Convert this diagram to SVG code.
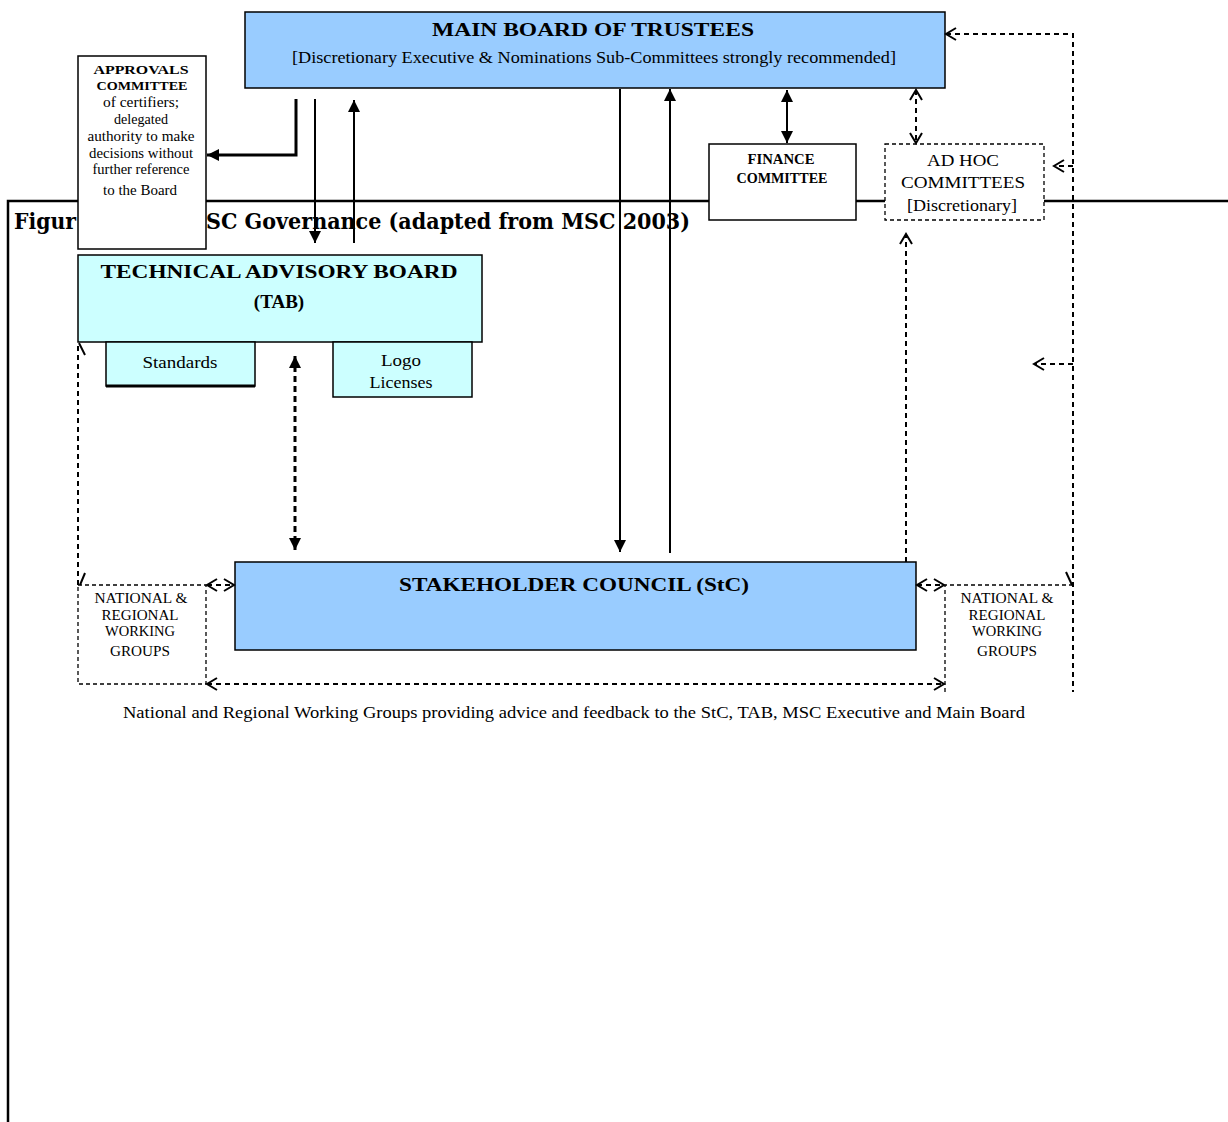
<svg xmlns="http://www.w3.org/2000/svg" width="1228" height="1122" viewBox="0 0 1228 1122">
<style>
.t{font-family:"Liberation Serif","Times New Roman",serif;fill:#000;text-anchor:middle}
.b{font-weight:bold}
.box{stroke:#000;stroke-width:1.5}
.dbox{fill:#fff;stroke:#000;stroke-width:1.3;stroke-dasharray:4,3}
.ln{fill:none;stroke:#000;stroke-width:2}
.dl{fill:none;stroke:#000;stroke-width:2;stroke-dasharray:5,4}
</style>
<defs>
<marker id="fa" markerUnits="userSpaceOnUse" markerWidth="12" markerHeight="12" viewBox="0 0 12 12" refX="12" refY="6" orient="auto-start-reverse"><path d="M0,0 L12,6 L0,12 z" fill="#000"/></marker>
<marker id="oa" markerUnits="userSpaceOnUse" markerWidth="14" markerHeight="14" viewBox="0 0 14 14" refX="12" refY="7" orient="auto-start-reverse"><path d="M2,1 L12,7 L2,13" fill="none" stroke="#000" stroke-width="2"/></marker>
</defs>
<rect width="1228" height="1122" fill="#fff"/>
<g id="frame">
<path d="M8,1122 V201 H1228" fill="none" stroke="#000" stroke-width="2.5"/>
<text x="14" y="229" font-family="'DejaVu Serif','Liberation Serif',serif" font-weight="bold" font-size="23" textLength="62" lengthAdjust="spacingAndGlyphs">Figur</text>
<text x="206" y="229" font-family="'DejaVu Serif','Liberation Serif',serif" font-weight="bold" font-size="23" textLength="484" lengthAdjust="spacingAndGlyphs">SC Governance (adapted from MSC 2003)</text>
</g>
<g id="main-board">
<rect class="box" x="245" y="12" width="700" height="76" fill="#99ccff" stroke-width="2"/>
<text class="t b" x="593" y="36" font-size="19" textLength="322" lengthAdjust="spacingAndGlyphs">MAIN BOARD OF TRUSTEES</text>
<text class="t" x="594" y="63" font-size="16" textLength="604" lengthAdjust="spacingAndGlyphs">[Discretionary Executive &amp; Nominations Sub-Committees strongly recommended]</text>
</g>
<g id="approvals">
<rect class="box" x="78" y="56" width="128" height="193" fill="#fff"/>
<text class="t b" x="141" y="74" font-size="13" textLength="95" lengthAdjust="spacingAndGlyphs">APPROVALS</text>
<text class="t b" x="142" y="90" font-size="13" textLength="91" lengthAdjust="spacingAndGlyphs">COMMITTEE</text>
<text class="t" x="141" y="107" font-size="14" textLength="76" lengthAdjust="spacingAndGlyphs">of certifiers;</text>
<text class="t" x="141" y="124" font-size="14" textLength="54" lengthAdjust="spacingAndGlyphs">delegated</text>
<text class="t" x="141" y="141" font-size="14" textLength="107" lengthAdjust="spacingAndGlyphs">authority to make</text>
<text class="t" x="141" y="158" font-size="14" textLength="104" lengthAdjust="spacingAndGlyphs">decisions without</text>
<text class="t" x="141" y="174" font-size="14" textLength="97" lengthAdjust="spacingAndGlyphs">further reference</text>
<text class="t" x="140" y="195" font-size="14" textLength="74" lengthAdjust="spacingAndGlyphs">to the Board</text>
</g>
<g id="finance">
<rect class="box" x="709" y="144" width="147" height="76" fill="#fff"/>
<text class="t b" x="781" y="164" font-size="14" textLength="67" lengthAdjust="spacingAndGlyphs">FINANCE</text>
<text class="t b" x="782" y="183" font-size="14" textLength="91" lengthAdjust="spacingAndGlyphs">COMMITTEE</text>
</g>
<g id="adhoc">
<rect class="dbox" x="885" y="144" width="159" height="76"/>
<text class="t" x="963" y="166" font-size="17" textLength="72" lengthAdjust="spacingAndGlyphs">AD HOC</text>
<text class="t" x="963" y="188" font-size="17" textLength="124" lengthAdjust="spacingAndGlyphs">COMMITTEES</text>
<text class="t" x="962" y="211" font-size="17" textLength="110" lengthAdjust="spacingAndGlyphs">[Discretionary]</text>
</g>
<g id="tab">
<rect class="box" x="78" y="255" width="404" height="87" fill="#ccffff"/>
<text class="t b" x="279" y="278" font-size="19" textLength="357" lengthAdjust="spacingAndGlyphs">TECHNICAL ADVISORY BOARD</text>
<text class="t b" x="279" y="308" font-size="19">(TAB)</text>
</g>
<g id="standards">
<rect class="box" x="106" y="342" width="149" height="44" fill="#ccffff"/>
<line x1="106" y1="386" x2="255" y2="386" stroke="#000" stroke-width="3"/>
<text class="t" x="180" y="368" font-size="17" textLength="75" lengthAdjust="spacingAndGlyphs">Standards</text>
</g>
<g id="logo">
<rect class="box" x="333" y="342" width="139" height="55" fill="#ccffff"/>
<text class="t" x="401" y="366" font-size="17" textLength="40" lengthAdjust="spacingAndGlyphs">Logo</text>
<text class="t" x="401" y="388" font-size="17" textLength="63" lengthAdjust="spacingAndGlyphs">Licenses</text>
</g>
<g id="stc">
<rect class="box" x="235" y="562" width="681" height="88" fill="#99ccff" stroke-width="2"/>
<text class="t b" x="574" y="591" font-size="19" textLength="350" lengthAdjust="spacingAndGlyphs">STAKEHOLDER COUNCIL (StC)</text>
</g>
<g id="nrwg-left">
<rect class="dbox" x="78" y="585" width="128" height="99"/>
<text class="t" x="141" y="603" font-size="15" textLength="93" lengthAdjust="spacingAndGlyphs">NATIONAL &amp;</text>
<text class="t" x="140" y="620" font-size="15" textLength="77" lengthAdjust="spacingAndGlyphs">REGIONAL</text>
<text class="t" x="140" y="636" font-size="15" textLength="70" lengthAdjust="spacingAndGlyphs">WORKING</text>
<text class="t" x="140" y="656" font-size="15" textLength="60" lengthAdjust="spacingAndGlyphs">GROUPS</text>
</g>
<g id="nrwg-right">
<path d="M945,692 V585 H1073" fill="none" stroke="#000" stroke-width="1.3" stroke-dasharray="4,3"/>
<text class="t" x="1007" y="603" font-size="15" textLength="93" lengthAdjust="spacingAndGlyphs">NATIONAL &amp;</text>
<text class="t" x="1007" y="620" font-size="15" textLength="77" lengthAdjust="spacingAndGlyphs">REGIONAL</text>
<text class="t" x="1007" y="636" font-size="15" textLength="70" lengthAdjust="spacingAndGlyphs">WORKING</text>
<text class="t" x="1007" y="656" font-size="15" textLength="60" lengthAdjust="spacingAndGlyphs">GROUPS</text>
</g>
<g id="caption">
<text class="t" x="574" y="718" font-size="16" textLength="902" lengthAdjust="spacingAndGlyphs">National and Regional Working Groups providing advice and feedback to the StC, TAB, MSC Executive and Main Board</text>
</g>
<g id="connectors">
<polyline points="296,99 296,155 207,155" fill="none" stroke="#000" stroke-width="3" marker-end="url(#fa)"/>
<line class="ln" x1="315" y1="99" x2="315" y2="243" marker-end="url(#fa)"/>
<line class="ln" x1="354" y1="243" x2="354" y2="100" marker-end="url(#fa)"/>
<line class="ln" x1="620" y1="89" x2="620" y2="552" marker-end="url(#fa)"/>
<line class="ln" x1="670" y1="553" x2="670" y2="89" marker-end="url(#fa)"/>
<line class="ln" x1="787" y1="90" x2="787" y2="143" marker-start="url(#fa)" marker-end="url(#fa)"/>
<line class="dl" x1="916" y1="90" x2="916" y2="143" marker-start="url(#oa)" marker-end="url(#oa)"/>
<polyline class="dl" points="946,34 1073,34 1073,692" marker-start="url(#oa)"/>
<line class="dl" x1="1073" y1="166" x2="1054" y2="166" marker-end="url(#oa)"/>
<line class="dl" x1="1073" y1="364" x2="1034" y2="364" marker-end="url(#oa)"/>
<line x1="1066" y1="572" x2="1072" y2="585" stroke="#000" stroke-width="2"/>
<line class="dl" x1="906" y1="562" x2="906" y2="234" marker-end="url(#oa)"/>
<line x1="295" y1="356" x2="295" y2="550" stroke="#000" stroke-width="3" stroke-dasharray="6,4" marker-start="url(#fa)" marker-end="url(#fa)"/>
<line class="dl" x1="78" y1="585" x2="78" y2="343"/>
<line x1="79" y1="343" x2="85" y2="355" stroke="#000" stroke-width="2"/>
<line x1="80" y1="585" x2="85" y2="573" stroke="#000" stroke-width="2"/>
<line class="dl" x1="207" y1="585" x2="234" y2="585" marker-start="url(#oa)" marker-end="url(#oa)"/>
<line class="dl" x1="917" y1="585" x2="944" y2="585" marker-start="url(#oa)" marker-end="url(#oa)"/>
<line class="dl" x1="207" y1="684" x2="944" y2="684" marker-start="url(#oa)" marker-end="url(#oa)"/>
</g>
</svg>
